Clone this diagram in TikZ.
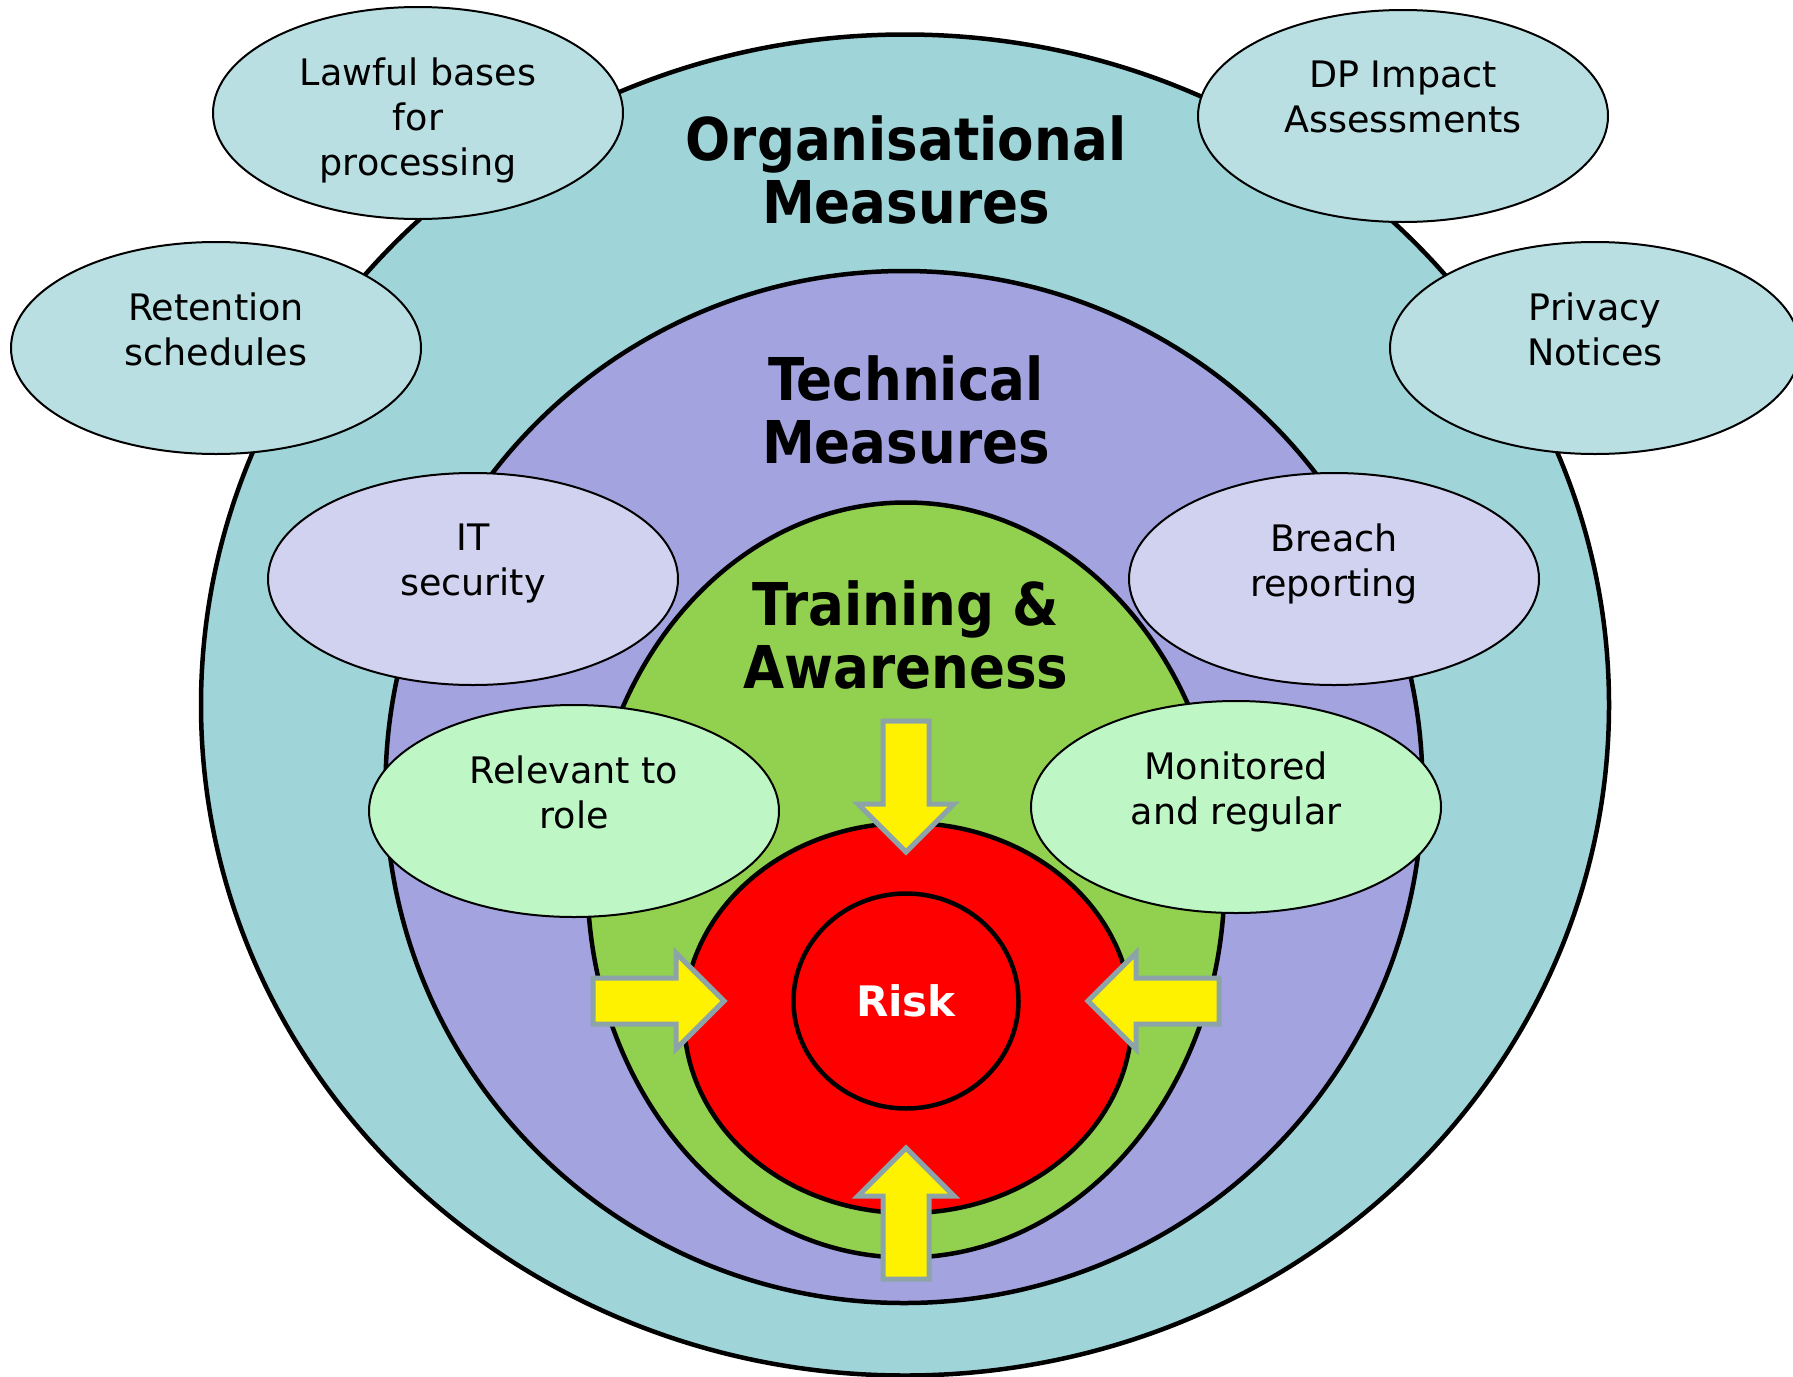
\documentclass[tikz,border=0pt]{standalone}
\usepackage{fontspec}
\setmainfont{DejaVu Sans}
\newfontfamily\condfont{DejaVu Sans Condensed}
\usetikzlibrary{shapes.geometric,positioning}

\definecolor{orgteal}{RGB}{159,212,216}
\definecolor{orgnote}{RGB}{185,223,226}
\definecolor{techlilac}{RGB}{163,163,223}
\definecolor{technote}{RGB}{209,209,240}
\definecolor{traingreen}{RGB}{146,208,80}
\definecolor{trainnote}{RGB}{190,246,198}
\definecolor{arrowgrey}{RGB}{140,163,168}

\begin{document}
\begin{tikzpicture}[x=1pt,y=-1pt]
    \tikzstyle{layer}=[ellipse,draw=black,line width=4.5pt,inner sep=0pt]
    \tikzstyle{note}=[ellipse,draw=black,line width=2pt,inner sep=0pt,minimum width=410pt,minimum height=212pt]
    \tikzstyle{org note}=[note, fill=orgnote]
    \tikzstyle{tech note}=[note, fill=technote]
    \tikzstyle{train note}=[note, fill=trainnote]
    \tikzstyle{note text}=[anchor=north,align=center,inner sep=0pt,font=\fontsize{36.5}{45}\selectfont]
    \tikzstyle{title}=[align=center,inner sep=0pt,font=\condfont\bfseries\fontsize{59}{63}\selectfont]
    \tikzstyle{push}=[fill=yellow,draw=arrowgrey,line width=5pt]

    \useasboundingbox (0,0) rectangle (1793,1376);

    % nested layers, outside in
    \node[layer,fill=orgteal,minimum width=1408pt,minimum height=1341pt] (org) at (905,705) {};
    \node[layer,fill=techlilac,minimum width=1037pt,minimum height=1032pt] (tech) at (904,787) {};
    \node[layer,fill=traingreen,minimum width=637pt,minimum height=755pt] (train) at (906,880) {};
    \node[layer,fill=red,minimum width=448pt,minimum height=390pt] (riskzone) at (908,1018) {};
    \node[layer,fill=red,minimum width=225pt,minimum height=215pt,
          text=white,font=\bfseries\fontsize{42}{50}\selectfont] (risk) at (906,1001) {Risk};

    % layer titles
    \node[title] (org-title) at (906,170) {Organisational\\Measures};
    \node[title] (tech-title) at (906,410) {Technical\\Measures};
    \node[title] (train-title) at (906,635) {Training \&\\Awareness};

    % notes round the layers
    \node[org note] (lawful) at (418,113) {};
    \node[org note] (dpia) at (1403,116) {};
    \node[org note] (retention) at (216,348) {};
    \node[org note] (privacy) at (1595,348) {};
    \node[tech note] (itsec) at (473,579) {};
    \node[tech note] (breach) at (1334,579) {};
    \node[train note] (relevant) at (574,811) {};
    \node[train note] (monitored) at (1236,807) {};

    \node[note text] (lawful-t) at ([yshift=55pt]lawful.center) {Lawful bases\\for\\processing};
    \node[note text] (dpia-t) at ([yshift=55pt]dpia.center) {DP Impact\\Assessments};
    \node[note text] (retention-t) at ([yshift=55pt]retention.center) {Retention\\schedules};
    \node[note text] (privacy-t) at ([yshift=55pt]privacy.center) {Privacy\\Notices};
    \node[note text] (itsec-t) at ([yshift=55pt]itsec.center) {IT\\security};
    \node[note text] (breach-t) at ([yshift=55pt]breach.center) {Breach\\reporting};
    \node[note text] (relevant-t) at ([yshift=55pt]relevant.center) {Relevant to\\role};
    \node[note text] (monitored-t) at ([yshift=55pt]monitored.center) {Monitored\\and regular};

    % block arrows pressing on the risk
    \foreach \x/\y/\a in {906/852/-90, 906/1148/90, 724/1001/0, 1088/1001/180}
        \draw[push,shift={(\x,\y)},rotate=\a]
            (0,0) -- (-48,48) -- (-48,23) -- (-131,23) -- (-131,-23) -- (-48,-23) -- (-48,-48) -- cycle;
\end{tikzpicture}
\end{document}
